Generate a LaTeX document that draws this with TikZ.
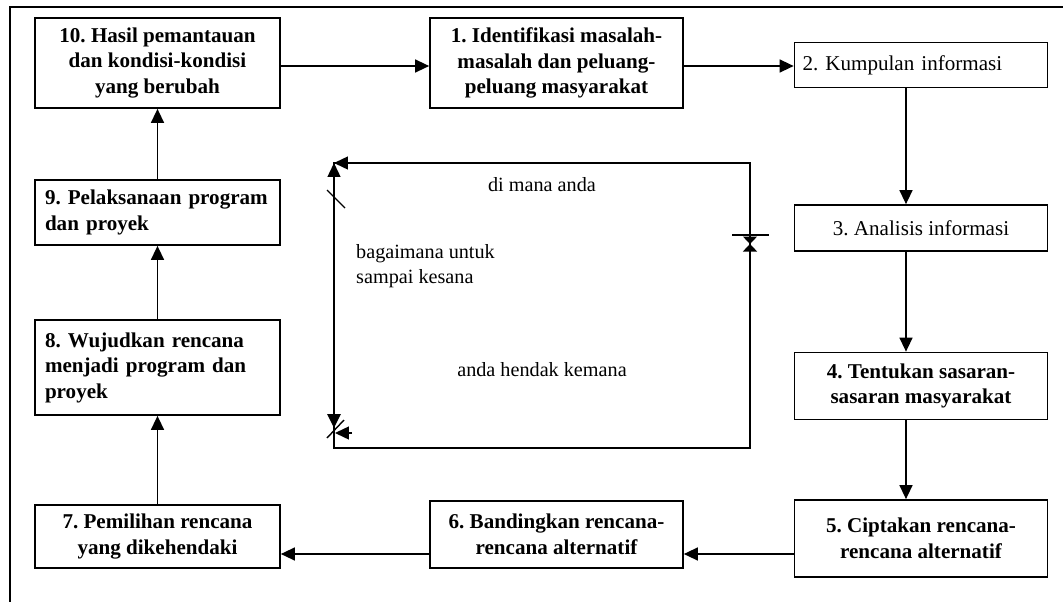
\documentclass[tikz,border=0pt]{standalone}
\usepackage{fontspec}
\setmainfont{Liberation Serif}
\usetikzlibrary{arrows.meta}

\begin{document}
\frenchspacing
\begin{tikzpicture}[x=0.02cm,y=-0.02cm,
  every node/.style={font=\fontsize{11.5}{14}\selectfont},
  stage/.style={draw,line width=1pt,align=center,inner sep=0pt,font=\fontsize{12}{14.5}\selectfont\bfseries},
  plainstage/.style={stage,font=\fontsize{12}{14.5}\selectfont},
  leftstage/.style={stage,align=left,inner xsep=0.2cm,text width=4.5cm},
  flow/.style={line width=0.8pt,-{Triangle[length=0.28cm,width=0.26cm]}},
  meet/.style={line width=0.8pt,-{Triangle[length=0.15cm,width=0.28cm]}},
  tick/.style={line width=0.8pt}]
  \useasboundingbox (0,0) rectangle (1063,602);
  \draw[line width=0.8pt] (10,602) -- (10,7) -- (1063,7);

  \node[stage,minimum width=4.9cm,minimum height=1.8cm] (b10) at (157.5,63) {10. Hasil pemantauan\\dan kondisi-kondisi\\yang berubah};
  \node[stage,minimum width=5.06cm,minimum height=1.8cm] (b1) at (556.5,63) {1. Identifikasi masalah-\\masalah dan peluang-\\peluang masyarakat};
  \node[plainstage,align=left,inner xsep=0.16cm,text width=4.74cm,minimum height=0.9cm] (b2) at (921,65) {2. Kumpulan informasi};
  \node[plainstage,minimum width=5.06cm,minimum height=0.92cm] (b3) at (921,228) {3. Analisis informasi};
  \node[stage,minimum width=5.06cm,minimum height=1.34cm] (b4) at (921,386) {4. Tentukan sasaran-\\sasaran masyarakat};
  \node[stage,minimum width=5.06cm,minimum height=1.54cm] (b5) at (921,538.5) {5. Ciptakan rencana-\\rencana alternatif};
  \node[stage,minimum width=5.06cm,minimum height=1.34cm] (b6) at (556.5,534.5) {6. Bandingkan rencana-\\rencana alternatif};
  \node[stage,minimum width=4.9cm,minimum height=1.26cm] (b7) at (157.5,536.5) {7. Pemilihan rencana\\yang dikehendaki};
  \node[leftstage,minimum height=1.9cm] (b8) at (157.5,367.5) {8. Wujudkan rencana\\menjadi program dan\\proyek};
  \node[leftstage,minimum height=1.3cm] (b9) at (157.5,212.5) {9. Pelaksanaan program\\dan proyek};

  \coordinate (high) at (0,66);
  \coordinate (low) at (0,554);
  \draw[flow] (b10.east |- high) -- (b1.west |- high);
  \draw[flow] (b1.east |- high) -- (b2.west |- high);
  \draw[flow] ([xshift=-0.3cm]b2.south) -- ([xshift=-0.3cm]b3.north);
  \draw[flow] ([xshift=-0.3cm]b3.south) -- ([xshift=-0.3cm]b4.north);
  \draw[flow] ([xshift=-0.3cm]b4.south) -- ([xshift=-0.3cm]b5.north);
  \draw[flow] (b5.west |- low) -- (b6.east |- low);
  \draw[flow] (b6.west |- low) -- (b7.east |- low);
  \draw[flow] (b7.north) -- (b8.south);
  \draw[flow] (b8.north) -- (b9.south);
  \draw[flow] (b9.north) -- (b10.south);

  \coordinate (tl) at (334,163);
  \coordinate (br) at (750,448);
  \draw[line width=0.8pt] (tl) rectangle (br);
  \draw[flow] (370,163) -- (tl);
  \draw[flow] (334,200) -- (tl);
  \draw[flow,line width=1.6pt] (334,390) -- (334,428);
  \draw[flow] (352,433) -- (335,433);
  \draw[tick] (327,190) -- (345,208);
  \draw[tick] (327,438) -- (344,420);
  \draw[tick] (732,235) -- (769,235);
  \draw[line width=1.6pt] (750,215) -- (750,270);
  \draw[meet] (750,236) -- (750,244);
  \draw[meet] (750,252) -- (750,244);

  \node (where) at (542,185) {di mana anda};
  \node[align=left,anchor=west] (how) at (350,266) {bagaimana untuk\\sampai kesana};
  \node (goal) at (542,370) {anda hendak kemana};
\end{tikzpicture}
\end{document}
